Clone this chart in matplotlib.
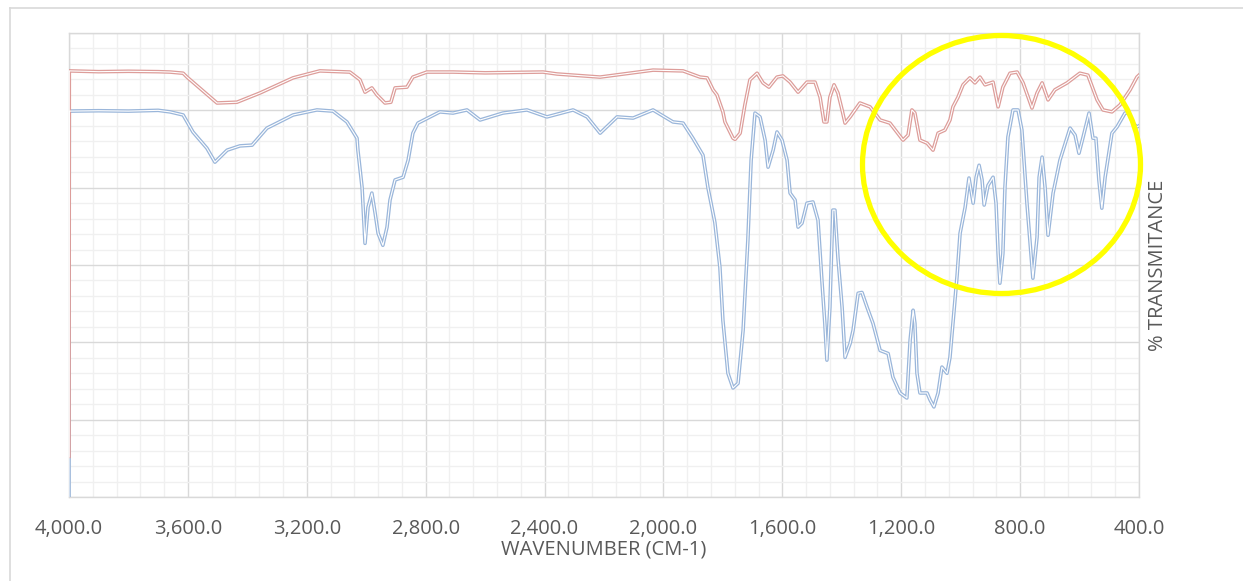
import numpy as np
import matplotlib
matplotlib.use("Agg")
import matplotlib.pyplot as plt
from matplotlib.patches import Ellipse
from matplotlib.lines import Line2D
from matplotlib.ticker import MultipleLocator, FuncFormatter

# red (upper) spectrum
red_wn = [4000, 3999, 3900, 3800, 3700, 3660, 3616, 3603, 3502, 3435, 3357, 3246, 3156,
          3055, 3021, 3004, 2981, 2964, 2937, 2917, 2903, 2863, 2843, 2796, 2708, 2600,
          2405, 2358, 2213, 2035, 1934, 1877, 1853, 1833, 1820, 1800, 1793, 1766, 1759,
          1742, 1726, 1709, 1685, 1665, 1645, 1618, 1598, 1574, 1547, 1517, 1490, 1473,
          1460, 1450, 1440, 1426, 1413, 1399, 1389, 1372, 1339, 1305, 1271, 1238, 1194,
          1177, 1164, 1154, 1137, 1113, 1093, 1076, 1053, 1036, 1026, 1009, 992, 969,
          952, 935, 918, 891, 874, 858, 834, 810, 790, 760, 743, 726, 706, 683, 642,
          599, 572, 541, 521, 491, 464, 430, 407, 400]
red_t = [10.5, 110.2, 110.0, 110.1, 110.0, 109.9, 109.6, 108.6, 101.9, 102.1, 104.5, 108.4, 110.2,
         109.9, 107.9, 104.7, 105.8, 104.0, 101.9, 102.1, 105.8, 106.0, 108.6, 109.9, 109.9, 109.7,
         109.9, 109.4, 108.6, 110.4, 110.2, 108.6, 108.4, 105.3, 104.0, 99.6, 97.0, 92.8, 92.5,
         94.1, 101.4, 107.9, 109.6, 107.1, 106.0, 108.6, 108.9, 107.3, 104.7, 107.3, 107.3, 103.4,
         97.0, 97.0, 103.4, 106.6, 104.5, 100.1, 96.7, 98.3, 101.9, 100.9, 97.5, 96.7, 92.3,
         93.6, 100.1, 99.3, 92.3, 91.5, 89.7, 94.1, 94.9, 97.5, 100.9, 103.4, 106.6, 108.4,
         107.1, 108.6, 106.6, 107.3, 100.9, 106.0, 109.6, 109.9, 107.1, 100.6, 104.5, 107.1, 102.7, 105.3, 107.1,
         109.6, 109.1, 102.7, 100.1, 99.6, 101.4, 105.3, 108.6, 109.1]

# blue (lower) spectrum
blue_wn = [4000, 3999, 3900, 3800, 3700, 3660, 3616, 3583, 3536, 3509, 3468, 3425, 3384,
           3334, 3246, 3166, 3112, 3065, 3031, 3028, 3014, 3004, 2994, 2981, 2970, 2960,
           2944, 2930, 2920, 2903, 2876, 2859, 2843, 2826, 2785, 2752, 2708, 2661, 2617,
           2540, 2459, 2392, 2304, 2257, 2213, 2156, 2102, 2035, 1968, 1934, 1901, 1867,
           1850, 1827, 1810, 1800, 1783, 1766, 1749, 1732, 1716, 1705, 1692, 1675, 1658,
           1648, 1631, 1618, 1601, 1584, 1574, 1557, 1547, 1534, 1517, 1497, 1480, 1467,
           1457, 1450, 1440, 1430, 1423, 1413, 1399, 1389, 1372, 1362, 1345, 1332, 1315,
           1295, 1271, 1244, 1228, 1204, 1181, 1170, 1160, 1154, 1147, 1137, 1113, 1103,
           1090, 1076, 1063, 1046, 1036, 1026, 1012, 1002, 985, 972, 958, 948, 938, 928,
           921, 908, 891, 881, 874, 868, 858, 851, 841, 824, 807, 794, 777, 757, 743, 736,
           726, 716, 706, 689, 666, 632, 615, 602, 588, 568, 555, 545, 535, 525, 514, 491,
           474, 447, 434, 420, 407, 400]
blue_t = [0.0, 99.8, 99.9, 99.8, 100.0, 99.6, 98.8, 94.4, 90.2, 86.6, 89.7, 90.8, 91.0,
          95.4, 98.8, 100.1, 99.8, 97.0, 92.8, 89.7, 80.1, 65.6, 74.9, 78.6, 73.4, 68.2,
          65.1, 69.8, 76.8, 82.0, 82.7, 87.1, 94.1, 96.7, 98.3, 99.6, 99.3, 100.1, 97.5,
          99.3, 100.1, 98.3, 100.1, 98.3, 94.1, 98.3, 98.0, 100.1, 97.0, 96.7, 92.8, 88.4,
          79.9, 71.0, 59.4, 45.7, 32.0, 28.2, 29.4, 43.1, 66.4, 87.1, 99.3, 98.3, 92.3,
          85.3, 89.7, 94.4, 92.3, 87.1, 78.6, 76.8, 69.8, 70.8, 76.0, 76.3, 71.6, 56.1,
          44.9, 35.4, 49.1, 74.2, 74.2, 62.0, 49.1, 36.1, 39.7, 43.1, 52.7, 52.9, 49.1,
          44.9, 37.9, 37.1, 31.0, 26.9, 25.6, 40.6, 48.3, 44.9, 32.0, 26.9, 26.9, 25.1,
          23.3, 26.9, 33.6, 32.0, 36.1, 44.9, 57.3, 68.2, 74.9, 82.5, 76.0, 82.7, 85.8, 82.0,
          75.5, 80.6, 82.7, 76.0, 63.0, 55.3, 63.0, 80.1, 93.1, 100.1, 100.1, 94.9, 76.0, 56.6, 67.2, 82.7,
          87.9, 80.1, 67.7, 78.6, 87.1, 95.4, 93.6, 88.9, 93.1, 99.3, 92.8, 92.8, 82.0, 74.7, 82.7, 94.1,
          95.7, 99.3, 99.3, 96.7, 95.7, 96.0]

x_ticks = [4000, 3600, 3200, 2800, 2400, 2000, 1600, 1200, 800, 400]

text_col = "#595959"
plt.rcParams["font.family"] = ["Open Sans", "DejaVu Sans"]

W, H = 1243, 581
fig = plt.figure(figsize=(W / 100, H / 100), dpi=100)
ax = fig.add_axes([69 / W, 1 - 497 / H, (1139 - 69) / W, (497 - 33) / H])

# outer chart border (only top/left visible in the crop)
fig.add_artist(Line2D([10 / W, 10 / W], [0, 1 - 8 / H], transform=fig.transFigure, color="#d9d9d9", lw=1.2))
fig.add_artist(Line2D([10 / W, 1], [1 - 8 / H, 1 - 8 / H], transform=fig.transFigure, color="#d9d9d9", lw=1.2))

# double-stroke lines like the Excel compound style
for wn, t, col in [(blue_wn, blue_t, "#9ab6da"), (red_wn, red_t, "#dd9d9a")]:
    ax.plot(wn, t, color=col, lw=2.6, solid_joinstyle="round", zorder=3)
    ax.plot(wn, t, color="white", lw=0.8, solid_joinstyle="round", zorder=4)

ax.set_xlim(4000, 400)
ax.set_ylim(0, 120)
ax.set_xticks(x_ticks)
ax.xaxis.set_minor_locator(MultipleLocator(80))
ax.yaxis.set_major_locator(MultipleLocator(20))
ax.yaxis.set_minor_locator(MultipleLocator(4))
ax.xaxis.set_major_formatter(FuncFormatter(lambda v, p: f"{v:,.1f}"))
ax.set_yticklabels([])
ax.tick_params(which="both", length=0)
ax.tick_params(axis="x", labelsize=14.5, labelcolor=text_col, pad=16)
ax.tick_params(axis="y", left=False, labelleft=False)

ax.grid(which="minor", color="#f0f0f0", lw=1.0, zorder=0)
ax.grid(which="major", color="#d9d9d9", lw=1.0, zorder=1)
ax.set_axisbelow(True)
for s in ax.spines.values():
    s.set_color("#d9d9d9")
    s.set_linewidth(1.0)

ax.set_xlabel("WAVENUMBER (CM-1)", fontsize=14.5, color=text_col, labelpad=0)
fig.text(1158 / W, 1 - 265 / H, "% TRANSMITANCE", rotation=90, ha="center", va="center",
         fontsize=14.5, color=text_col)

# yellow highlight circle
fig.add_artist(Ellipse((1001.5 / W, 1 - 164.5 / H), 278 / W, 258 / H, transform=fig.transFigure,
                       fill=False, edgecolor="#ffff00", lw=3.8, zorder=10))

fig.savefig("out.png", dpi=100)
